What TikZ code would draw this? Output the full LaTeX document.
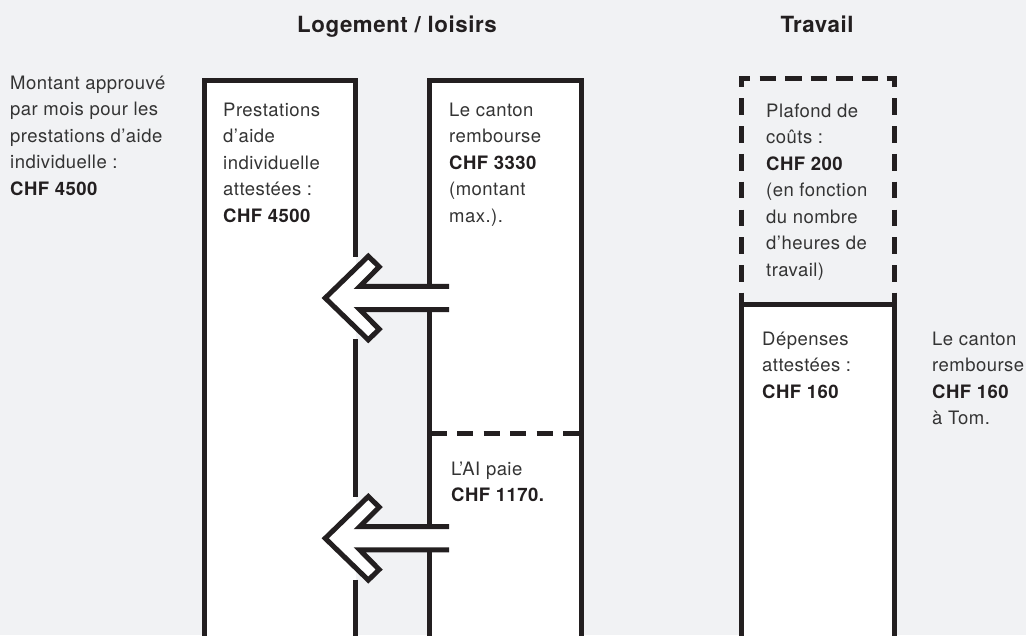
\documentclass[tikz,border=0pt]{standalone}
\usepackage{fontspec}
\setmainfont{TeX Gyre Heros}[LetterSpace=2.5]
\definecolor{bg}{RGB}{241,242,244}
\definecolor{ink}{RGB}{35,31,32}
\definecolor{txt}{RGB}{52,52,52}
\tikzset{
  body/.style={anchor=base west, inner sep=0pt, align=left, text=txt, font=\fontsize{18.5}{26.5}\selectfont},
  heading/.style={anchor=base, inner sep=0pt, text=ink, font=\fontsize{22.3}{26}\selectfont\bfseries},
  frame/.style={draw=ink, line width=5pt, line join=miter, line cap=butt},
  arrowshape/.style={draw=ink, fill=white, line width=5pt, line join=miter, line cap=butt},
}
\newcommand{\amt}[1]{\textbf{\color{ink}#1}}
\begin{document}
\begin{tikzpicture}[x=1pt,y=-1pt]
\fill[bg] (0,0) rectangle (1026,635);
\useasboundingbox (0,0) rectangle (1026,635);
\clip (0,0) rectangle (1026,635);
% fills
\fill[white] (204,80) rectangle (355.5,650);
\fill[white] (429,80) rectangle (581,650);
\fill[white] (741.7,304) rectangle (894.3,650);
% box 1 (right side broken by the arrows)
\draw[frame] (204,650) -- (204,80) -- (355.5,80) -- (355.5,256.7);
\draw[frame] (355.5,339.3) -- (355.5,497);
\draw[frame] (355.5,579.6) -- (355.5,650);
% box 2
\draw[frame] (429,650) -- (429,80) -- (581,80) -- (581,650);
\draw[frame, dash pattern=on 16pt off 10.5pt] (430.5,433.5) -- (578.5,433.5);
% box 3 : dashed upper part
\draw[frame] (741.7,86.7) -- (741.7,78.4) -- (750,78.4);
\draw[frame] (886.7,78.4) -- (894.3,78.4) -- (894.3,86.7);
\foreach \i in {0,...,4} \draw[frame] (759.5+25.5*\i,78.4) -- ++(16.8,0);
\foreach \i in {0,...,6} {
  \draw[frame] (741.7,98.3+27.8*\i) -- ++(0,16.7);
  \draw[frame] (894.3,98.3+27.8*\i) -- ++(0,16.7);
}
\draw[frame] (741.7,292.7) -- (741.7,304);
\draw[frame] (894.3,292.7) -- (894.3,304);
% box 3 : solid lower part
\draw[frame] (741.7,650) -- (741.7,304) -- (894.3,304) -- (894.3,650);
% arrows
\foreach \c in {298,538.3} {
  \draw[arrowshape] (449,\c-11.6) -- (359.7,\c-11.6) -- (379.2,\c-31.2) -- (368.3,\c-41.8)
    -- (325.2,\c) -- (368.3,\c+41.8) -- (379.2,\c+31.2) -- (359.7,\c+11.6) -- (449,\c+11.6);
}
% headings
\node[heading] (h1) at (397,32) {Logement / loisirs};
\node[heading] (h2) at (817,32) {Travail};
% texts (anchored at the baseline of their last line)
\node[body] (t0) at (10,195.3) {Montant approuvé\\par mois pour les\\prestations d’aide\\individuelle :\\\amt{CHF 4500}};
\node[body] (t1) at (223,222) {Prestations\\d’aide\\individuelle\\attestées :\\\amt{CHF 4500}};
\node[body] (t2) at (449,222) {Le canton\\rembourse\\\amt{CHF 3330}\\(montant\\max.).};
\node[body] (t3) at (451,501.5) {L’AI paie\\\amt{CHF 1170.}};
\node[body] (t4) at (766,276) {Plafond de\\coûts :\\\amt{CHF 200}\\(en fonction\\du nombre\\d’heures de\\travail)};
\node[body] (t5) at (762,398) {Dépenses\\attestées :\\\amt{CHF 160}};
\node[body] (t6) at (932,424.5) {Le canton\\rembourse\\\amt{CHF 160}\\à Tom.};
\end{tikzpicture}
\end{document}
